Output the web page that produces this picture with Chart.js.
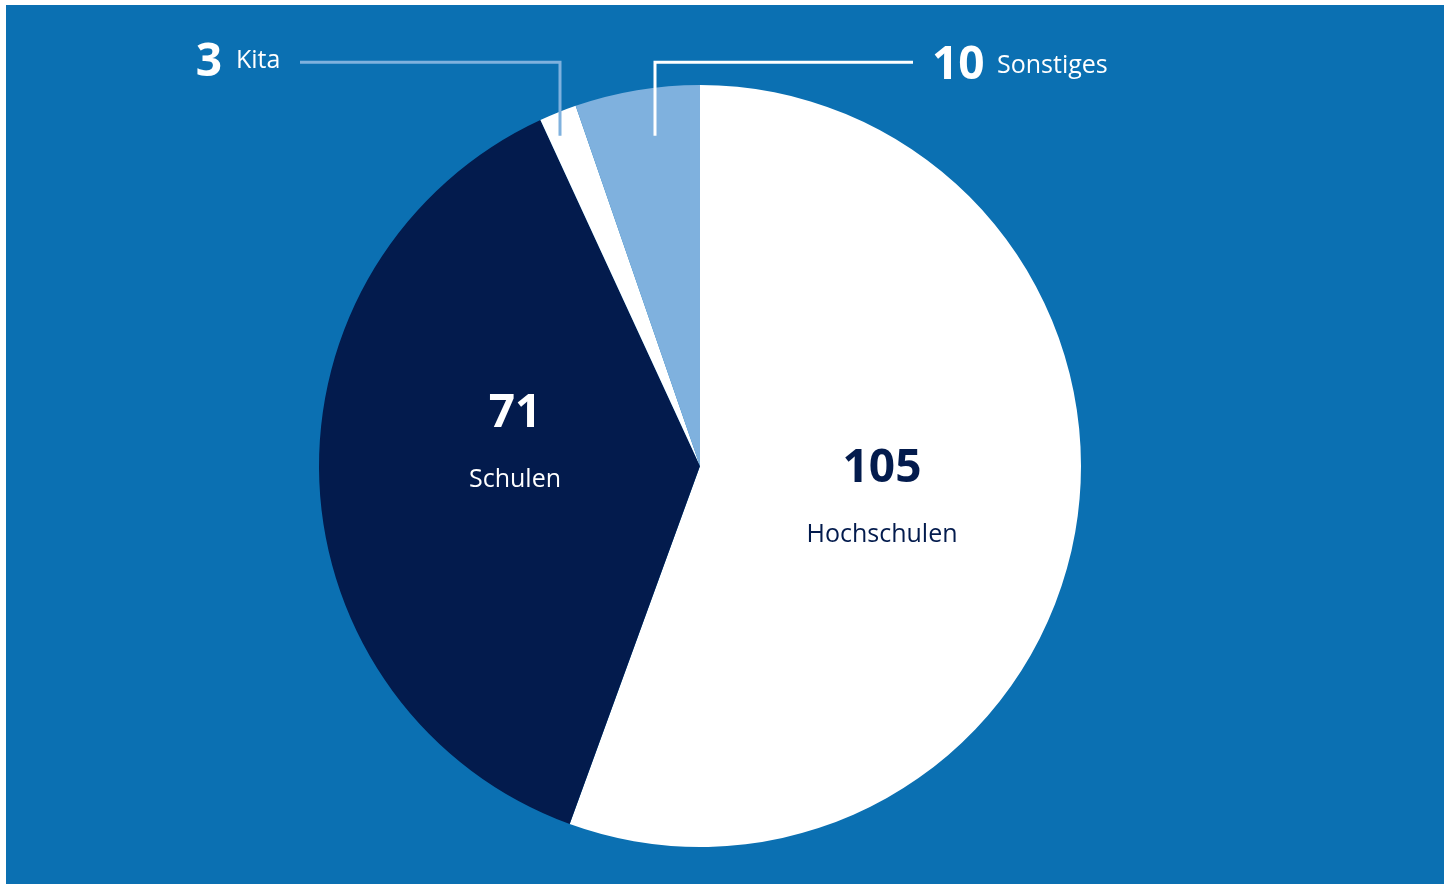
<!DOCTYPE html>
<html>
<head>
<meta charset="utf-8">
<script src="https://cdn.jsdelivr.net/npm/chart.js"></script>
<style>
  html, body { margin: 0; padding: 0; background: #ffffff; }
  #wrap { position: absolute; left: 6px; top: 5px; width: 1438px; height: 879px; background: #0b70b2; }
</style>
</head>
<body>
<div id="wrap"><canvas id="chart"></canvas></div>
<script>
const categories = ['Hochschulen', 'Schulen', 'Kita', 'Sonstiges'];
const values = [105, 71, 3, 10];
const colors = ['#ffffff', '#031b4d', '#ffffff', '#7fb1de'];

// labels drawn on top of the pie, incl. the two leader lines at the top
const pieLabels = {
  id: 'pieLabels',
  afterDatasetsDraw(chart) {
    const arc = chart.getDatasetMeta(0).data[0];
    const cx = arc.x, cy = arc.y, R = arc.outerRadius;
    const ctx = chart.ctx;
    ctx.save();

    // inside labels
    const inside = [
      { i: 0, dx: 182, dy: 3, color: '#031b4d' },
      { i: 1, dx: -185, dy: -52, color: '#ffffff' }
    ];
    ctx.textAlign = 'center';
    ctx.textBaseline = 'middle';
    inside.forEach(l => {
      ctx.fillStyle = l.color;
      ctx.font = 'bold 46px "Open Sans"';
      ctx.fillText(String(values[l.i]), cx + l.dx, cy + l.dy);
      ctx.font = '25px "Open Sans"';
      ctx.fillText(categories[l.i], cx + l.dx, cy + l.dy + 66);
    });

    // leader lines
    const topY = cy - R * 1.06;
    const endY = cy - R * 0.867;
    ctx.lineWidth = 3;
    ctx.lineCap = 'butt';
    ctx.strokeStyle = '#7fb1de';
    ctx.beginPath();
    ctx.moveTo(cx - 400, topY);
    ctx.lineTo(cx - 140, topY);
    ctx.lineTo(cx - 140, endY);
    ctx.stroke();

    ctx.strokeStyle = '#ffffff';
    ctx.beginPath();
    ctx.moveTo(cx - 45, endY);
    ctx.lineTo(cx - 45, topY);
    ctx.lineTo(cx + 213, topY);
    ctx.stroke();

    // outside labels
    ctx.fillStyle = '#ffffff';
    ctx.textBaseline = 'middle';
    ctx.textAlign = 'right';
    ctx.font = 'bold 46px "Open Sans"';
    ctx.fillText(String(values[2]), cx - 478, topY + 1);
    ctx.textAlign = 'left';
    ctx.font = '25px "Open Sans"';
    ctx.fillText(categories[2], cx - 464, topY - 1);

    ctx.font = 'bold 46px "Open Sans"';
    ctx.fillText(String(values[3]), cx + 232, topY + 4);
    ctx.font = '25px "Open Sans"';
    ctx.fillText(categories[3], cx + 297, topY + 4);

    ctx.restore();
  }
};

Promise.all([
  document.fonts.load('bold 46px "Open Sans"'),
  document.fonts.load('25px "Open Sans"')
]).catch(() => {}).then(() => {
  new Chart(document.getElementById('chart'), {
    type: 'pie',
    data: {
      labels: categories,
      datasets: [{
        data: values,
        backgroundColor: colors,
        borderWidth: 0
      }]
    },
    options: {
      responsive: true,
      maintainAspectRatio: false,
      animation: false,
      layout: { padding: { left: 313, right: 363, top: 80, bottom: 37 } },
      plugins: {
        legend: { display: false },
        tooltip: { enabled: false }
      }
    },
    plugins: [pieLabels]
  });
});
</script>
</body>
</html>
